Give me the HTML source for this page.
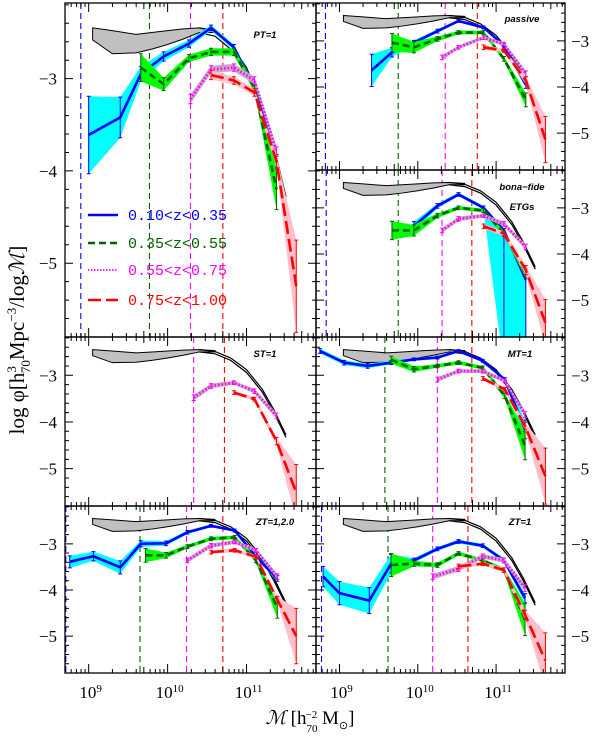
<!DOCTYPE html>
<html><head><meta charset="utf-8"><style>
html,body{margin:0;padding:0;background:#fff;}
svg{display:block;font-family:"Liberation Serif",serif;}
</style></head><body>
<svg id="chart" width="600" height="742" viewBox="0 0 600 742" xmlns="http://www.w3.org/2000/svg">
<defs id="defs"></defs>
</svg>
<script>
// Reference local mass function band & curve
const refM   = [9.05, 9.3, 9.6, 9.8, 10.0, 10.2, 10.4, 10.6];
const refTop = [-2.45, -2.48, -2.52, -2.50, -2.48, -2.46, -2.45, -2.47];
const refBot = [-2.58, -2.73, -2.72, -2.68, -2.63, -2.57, -2.50, -2.50];
const curveM  = [10.4, 10.6, 10.8, 11.0, 11.2, 11.35, 11.5];
const curveHi = [-2.45, -2.49, -2.63, -2.88, -3.3, -3.75, -4.28];
const curveLo = [-2.50, -2.54, -2.68, -2.94, -3.36, -3.81, -4.33];

// Panel PT=1
const PT_blue_m=[9.0,9.4,9.66,9.95,10.27,10.55,10.84,11.1,11.38];
const PT_blue_phi=[-3.61,-3.42,-2.95,-2.76,-2.62,-2.45,-2.66,-3.1,-3.9];
const PT_blue_err=[0.42,0.22,0.08,0.05,0.04,0.03,0.03,0.04,0.08];
const PT_green_m=[9.66,9.95,10.27,10.55,10.84,11.1,11.38];
const PT_green_phi=[-2.88,-3.06,-2.78,-2.71,-2.71,-3.1,-4.2];
const PT_green_err=[0.15,0.07,0.04,0.04,0.04,0.04,0.22];
const PT_mag_m=[10.29,10.55,10.84,11.1,11.38];
const PT_mag_phi=[-3.22,-2.9,-2.88,-3.02,-3.79];
const PT_mag_err=[0.05,0.04,0.04,0.04,0.05];
const PT_red_m=[10.55,10.84,11.1,11.38,11.63];
const PT_red_phi=[-2.96,-3.02,-3.15,-3.9,-5.25];
const PT_red_err=[0.05,0.04,0.04,0.06,0.5];
const PT_lims=[8.9,9.77,10.29,10.7];

// Panel passive
const PA_blue_m=[9.41,9.67,9.95,10.25,10.52,10.84,11.1,11.38];
const PA_blue_phi=[-3.64,-3.25,-3.04,-2.79,-2.57,-2.71,-3.1,-3.95];
const PA_blue_err=[0.35,0.1,0.05,0.04,0.03,0.03,0.04,0.08];
const PA_green_m=[9.67,9.95,10.25,10.52,10.84,11.1,11.38];
const PA_green_phi=[-3.04,-3.14,-2.96,-2.82,-2.82,-3.39,-4.28];
const PA_green_err=[0.2,0.12,0.05,0.04,0.04,0.05,0.15];
const PA_mag_m=[10.31,10.52,10.84,11.1,11.38];
const PA_mag_phi=[-3.36,-3.14,-2.93,-3.07,-3.71];
const PA_mag_err=[0.05,0.04,0.04,0.04,0.06];
const PA_red_m=[10.84,11.1,11.38,11.63];
const PA_red_phi=[-3.14,-3.21,-3.86,-5.14];
const PA_red_err=[0.05,0.04,0.08,0.5];
const PA_lims=[8.82,9.75,10.35,10.76];

// Panel bona-fide ETGs
const BF_blue_m=[9.95,10.25,10.52,10.84,11.1,11.38];
const BF_blue_phi=[-3.4,-2.96,-2.71,-3.0,-3.49,-4.56];
const BF_blue_err=[0.1,0.05,0.04,0.04,0.04,0.04];
const BF_blue_errlo=[0.1,0.05,0.04,0.04,3.0,3.0];
const BF_green_m=[9.67,9.95,10.25,10.52,10.84,11.1,11.38];
const BF_green_phi=[-3.49,-3.49,-3.17,-3.0,-3.06,-3.56,-4.42];
const BF_green_err=[0.2,0.12,0.05,0.04,0.04,0.06,0.1];
const BF_mag_m=[10.31,10.52,10.84,11.1,11.38];
const BF_mag_phi=[-3.49,-3.24,-3.17,-3.35,-3.85];
const BF_mag_err=[0.05,0.05,0.04,0.05,0.06];
const BF_red_m=[10.84,11.1,11.38,11.63];
const BF_red_phi=[-3.4,-3.56,-4.35,-5.49];
const BF_red_err=[0.05,0.05,0.1,0.5];
const BF_lims=[8.83,9.75,10.31,10.69];

// Panel ST=1
const ST_mag_m=[10.33,10.55,10.84,11.1,11.38];
const ST_mag_phi=[-3.48,-3.23,-3.16,-3.34,-3.87];
const ST_mag_err=[0.06,0.05,0.04,0.05,0.06];
const ST_red_m=[10.84,11.1,11.38,11.63];
const ST_red_phi=[-3.37,-3.51,-4.41,-5.51];
const ST_red_err=[0.04,0.04,0.08,0.6];
const ST_lims=[null,null,10.33,10.72];

// Panel MT=1
const MT_blue_m=[8.75,9.06,9.36,9.66,9.95,10.25,10.52,10.83,11.11,11.37];
const MT_blue_phi=[-2.48,-2.73,-2.8,-2.73,-2.66,-2.62,-2.48,-2.69,-3.09,-4.16];
const MT_blue_err=[0.05,0.05,0.05,0.04,0.03,0.03,0.03,0.03,0.04,0.2];
const MT_green_m=[9.66,9.95,10.25,10.52,10.83,11.11,11.37];
const MT_green_phi=[-2.67,-2.87,-2.8,-2.73,-2.84,-3.44,-4.51];
const MT_green_err=[0.08,0.06,0.04,0.04,0.04,0.06,0.3];
const MT_mag_m=[10.25,10.52,10.83,11.11,11.37];
const MT_mag_phi=[-3.09,-2.91,-2.91,-3.12,-3.84];
const MT_mag_err=[0.05,0.04,0.04,0.04,0.06];
const MT_red_m=[10.83,11.11,11.37,11.63];
const MT_red_phi=[-3.07,-3.3,-4.09,-5.16];
const MT_red_err=[0.04,0.04,0.08,0.6];
const MT_lims=[null,9.58,10.25,10.69];

// Panel ZT=1,2.0
const ZA_blue_m=[8.76,9.06,9.4,9.66,9.98,10.25,10.55,10.85,11.12,11.39];
const ZA_blue_phi=[-3.39,-3.27,-3.51,-3.0,-2.99,-2.75,-2.61,-2.71,-3.28,-3.75];
const ZA_blue_err=[0.13,0.1,0.14,0.07,0.05,0.04,0.03,0.03,0.04,0.06];
const ZA_green_m=[9.72,9.98,10.25,10.55,10.85,11.12,11.39];
const ZA_green_phi=[-3.25,-3.25,-3.06,-2.89,-2.86,-3.36,-4.39];
const ZA_green_err=[0.15,0.06,0.04,0.04,0.04,0.05,0.22];
const ZA_mag_m=[10.25,10.55,10.85,11.12,11.39];
const ZA_mag_phi=[-3.36,-3.04,-2.96,-3.14,-3.71];
const ZA_mag_err=[0.05,0.05,0.04,0.04,0.06];
const ZA_red_m=[10.55,10.85,11.12,11.39,11.63];
const ZA_red_phi=[-3.18,-3.14,-3.28,-4.21,-5.0];
const ZA_red_err=[0.04,0.04,0.04,0.07,0.6];
const ZA_lims=[8.71,9.65,10.24,10.7];

// Panel ZT=1
const ZB_blue_m=[8.79,9.0,9.38,9.66,9.95,10.25,10.52,10.83,11.1,11.37];
const ZB_blue_phi=[-3.71,-4.07,-4.23,-3.43,-3.36,-3.11,-2.95,-3.04,-3.36,-4.18];
const ZB_blue_err=[0.22,0.25,0.28,0.2,0.05,0.04,0.04,0.04,0.05,0.1];
const ZB_green_m=[9.66,9.95,10.25,10.52,10.83,11.1,11.37];
const ZB_green_phi=[-3.46,-3.43,-3.46,-3.21,-3.36,-3.57,-4.64];
const ZB_green_err=[0.25,0.06,0.05,0.04,0.04,0.05,0.35];
const ZB_mag_m=[10.19,10.52,10.83,11.1,11.37];
const ZB_mag_phi=[-3.71,-3.54,-3.27,-3.36,-3.96];
const ZB_mag_err=[0.06,0.06,0.05,0.05,0.07];
const ZB_red_m=[10.52,10.83,11.1,11.37,11.63];
const ZB_red_phi=[-3.49,-3.43,-3.57,-4.54,-5.53];
const ZB_red_err=[0.05,0.04,0.05,0.1,0.6];
const ZB_lims=[8.77,9.62,10.19,10.64];

const XMIN=8.7, XMAX=11.88, YMAX=-2.18, YMIN=-5.8;
const NS="http://www.w3.org/2000/svg";
const svg=document.getElementById('chart');
const defs=document.getElementById('defs');
function mk(tag,attrs,parent){const e=document.createElementNS(NS,tag);for(const k in attrs)e.setAttribute(k,attrs[k]);(parent||svg).appendChild(e);return e;}

const STY={
 blue:{line:'#0000ff',band:'#00ffff',dash:'',w:2.6,lim:'#0000ff'},
 green:{line:'#006400',band:'#00ff00',dash:'7,4',w:2.6,lim:'#006400'},
 mag:{line:'#ff00ff',band:'#c8a8c8',dash:'1.5,2',w:2.8,lim:'#ff00ff'},
 red:{line:'#ff0000',band:'#ffc0cb',dash:'13,5',w:2.6,lim:'#ff0000'}
};

const panels=[
 {id:'pt',label:['PT=1'],lx:265,ly:38,x:65,y:3,w:251,h:334,side:'left',lims:PT_lims,
  s:{blue:[PT_blue_m,PT_blue_phi,PT_blue_err],green:[PT_green_m,PT_green_phi,PT_green_err],mag:[PT_mag_m,PT_mag_phi,PT_mag_err],red:[PT_red_m,PT_red_phi,PT_red_err]}},
 {id:'passive',label:['passive'],lx:522,ly:22,x:316,y:3,w:249,h:167,side:'right',lims:PA_lims,
  s:{blue:[PA_blue_m,PA_blue_phi,PA_blue_err],green:[PA_green_m,PA_green_phi,PA_green_err],mag:[PA_mag_m,PA_mag_phi,PA_mag_err],red:[PA_red_m,PA_red_phi,PA_red_err]}},
 {id:'bona-fide',label:['bona\u2212fide','ETGs'],lx:522,ly:190,x:316,y:170,w:249,h:167,side:'right',lims:BF_lims,
  s:{blue:[BF_blue_m,BF_blue_phi,BF_blue_err,BF_blue_errlo],green:[BF_green_m,BF_green_phi,BF_green_err],mag:[BF_mag_m,BF_mag_phi,BF_mag_err],red:[BF_red_m,BF_red_phi,BF_red_err]}},
 {id:'st',label:['ST=1'],lx:265,ly:357,x:65,y:337,w:251,h:169,side:'left',lims:ST_lims,
  s:{mag:[ST_mag_m,ST_mag_phi,ST_mag_err],red:[ST_red_m,ST_red_phi,ST_red_err]}},
 {id:'mt',label:['MT=1'],lx:520,ly:357,x:316,y:337,w:249,h:169,side:'right',lims:MT_lims,
  s:{blue:[MT_blue_m,MT_blue_phi,MT_blue_err],green:[MT_green_m,MT_green_phi,MT_green_err],mag:[MT_mag_m,MT_mag_phi,MT_mag_err],red:[MT_red_m,MT_red_phi,MT_red_err]}},
 {id:'zt-12',label:['ZT=1,2.0'],lx:275,ly:525,x:65,y:506,w:251,h:167,side:'left',lims:ZA_lims,
  s:{blue:[ZA_blue_m,ZA_blue_phi,ZA_blue_err],green:[ZA_green_m,ZA_green_phi,ZA_green_err],mag:[ZA_mag_m,ZA_mag_phi,ZA_mag_err],red:[ZA_red_m,ZA_red_phi,ZA_red_err]}},
 {id:'zt-1',label:['ZT=1'],lx:520,ly:525,x:316,y:506,w:249,h:167,side:'right',lims:ZB_lims,
  s:{blue:[ZB_blue_m,ZB_blue_phi,ZB_blue_err],green:[ZB_green_m,ZB_green_phi,ZB_green_err],mag:[ZB_mag_m,ZB_mag_phi,ZB_mag_err],red:[ZB_red_m,ZB_red_phi,ZB_red_err]}}
];

panels.forEach(p=>{
 const sx=m=>p.x+(m-XMIN)/(XMAX-XMIN)*p.w;
 const sy=v=>p.y+(YMAX-v)/(YMAX-YMIN)*p.h;
 const cp=mk('clipPath',{id:'clip-'+p.id},defs);
 mk('rect',{x:p.x,y:p.y,width:p.w,height:p.h},cp);
 const g=mk('g',{'clip-path':'url(#clip-'+p.id+')'});
 
 
 ['blue','green','mag','red'].forEach((k,i)=>{
  const L=p.lims[i]; if(L==null) return;
  const l=mk('line',{x1:sx(L),x2:sx(L),y1:p.y,y2:p.y+p.h,stroke:STY[k].lim,'stroke-width':1.1,'stroke-dasharray':'6,4'},g);
  
  
 });
 let pts=refM.map((m,i)=>sx(m)+','+sy(refTop[i])).concat(refM.slice().reverse().map((m,i)=>sx(m)+','+sy(refBot[refM.length-1-i])));
 const band=mk('polygon',{points:pts.join(' '),fill:'#c0c0c0',stroke:'#000','stroke-width':1},g);
 
 
 [curveHi,curveLo].forEach(arr=>{
  const c=mk('polyline',{points:curveM.map((m,i)=>sx(m)+','+sy(arr[i])).join(' '),fill:'none',stroke:'#000','stroke-width':1.2},g);
  
  
 });
 ['blue','green','mag','red'].forEach(k=>{
  const d=p.s[k]; if(!d) return;
  const M=d[0],P=d[1],E=d[2],EL=d[3]||d[2]; const st=STY[k];
  const up=M.map((m,i)=>sx(m)+','+sy(P[i]+E[i]));
  const lo=M.map((m,i)=>sx(m)+','+sy(P[i]-EL[i])).reverse();
  const b=mk('polygon',{points:up.concat(lo).join(' '),fill:st.band,stroke:'none'},g);
  
  
  M.forEach((m,i)=>{
   const x=sx(m),y1=sy(P[i]+E[i]),y2=sy(P[i]-EL[i]);
   const eb=mk('path',{d:`M${x},${y1}V${y2}M${x-2},${y1}H${x+2}M${x-2},${y2}H${x+2}`,stroke:st.line,'stroke-width':1,fill:'none'},g);
   
   
  });
  const ln=mk('polyline',{points:M.map((m,i)=>sx(m)+','+sy(P[i])).join(' '),fill:'none',stroke:st.line,'stroke-width':st.w,'stroke-dasharray':st.dash},g);
  
  
 });
 const fr=mk('rect',{x:p.x,y:p.y,width:p.w,height:p.h,fill:'none',stroke:'#000','stroke-width':1.3});
 
 
 let td='';
 for(let v=-6;v<=-2;v+=0.2){const vv=Math.round(v*10)/10; if(vv>YMAX||vv<YMIN) continue; const y=sy(vv); const major=Math.abs(vv-Math.round(vv))<1e-6; const L=major?8:4;
  td+=`M${p.x},${y}h${L}M${p.x+p.w},${y}h${-L}`;}
 for(let n=8;n<=11;n++)for(let k=1;k<10;k++){const m=n+Math.log10(k); if(m<XMIN||m>XMAX) continue; const x=sx(m); const L=k==1?9:(k==5?6:4);
  td+=`M${x},${p.y}v${L}M${x},${p.y+p.h}v${-L}`;}
 const tk=mk('path',{d:td,stroke:'#000','stroke-width':1,fill:'none'});
 
 
 [-3,-4,-5].forEach(v=>{
  const t=mk('text',{x:p.side=='left'?p.x-8:p.x+p.w+6,y:sy(v)+6,'font-size':17,'text-anchor':p.side=='left'?'end':'start'});
  t.textContent='\u2212'+Math.abs(v);
  
  
 });
 p.label.forEach((s,i)=>{
  const t=mk('text',{x:p.lx,y:p.ly+i*20,'font-size':9.5,'font-style':'italic','font-weight':'bold','text-anchor':'middle','font-family':'Liberation Sans, sans-serif'});
  t.textContent=s;
  
  
 });
 if(p.y+p.h>600){
  [9,10,11].forEach(n=>{
   const t=mk('text',{x:sx(n)+2,y:698,'font-size':17,'text-anchor':'middle'});
   t.textContent='10';
   const s=mk('tspan',{dy:-6,'font-size':11},t); s.textContent=String(n);
   
   
  });
 }
});

const legItems=[['blue','0.10<z<0.35'],['green','0.35<z<0.55'],['mag','0.55<z<0.75'],['red','0.75<z<1.00']];
const legY=[215,243,270,300];
legItems.forEach((it,i)=>{
 const st=STY[it[0]];
 const g=mk('g',{});
 
 
 mk('line',{x1:88,x2:118,y1:legY[i],y2:legY[i],stroke:st.line,'stroke-width':it[0]=='mag'?1.8:2.6,'stroke-dasharray':it[0]=='mag'?'1.5,1.5':st.dash},g);
 const t=mk('text',{x:128,y:legY[i]+5,'font-size':15,fill:st.line,'font-family':'Liberation Mono, monospace'},g);
 t.textContent=it[1];
});

const xt=mk('text',{x:310,y:724,'font-size':19,'text-anchor':'middle'});


xt.innerHTML='<tspan font-style="italic">ℳ</tspan>  [h<tspan font-size="11" dy="8">70</tspan><tspan font-size="11" dx="-12" dy="-14">−2</tspan><tspan dy="6">  M</tspan><tspan font-size="11" dy="5">⊙</tspan><tspan dy="-5">]</tspan>';
const yt=mk('text',{x:0,y:0,'font-size':21,'text-anchor':'middle',transform:'translate(24,340) rotate(-90)'});


yt.innerHTML='log  φ[h<tspan font-size="13" dy="-8">3</tspan><tspan font-size="13" dx="-7" dy="14">70</tspan><tspan dy="-6">Mpc</tspan><tspan font-size="13" dy="-8">−3</tspan><tspan dy="8">/log</tspan><tspan font-style="italic">ℳ</tspan>]';
</script>
</body></html>
